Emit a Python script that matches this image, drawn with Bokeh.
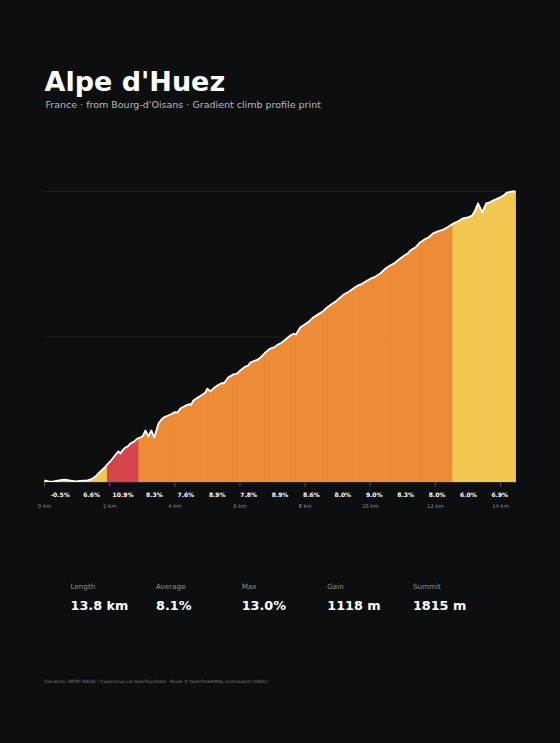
from bokeh.plotting import figure
from bokeh.layouts import column
from bokeh.models import Range1d
from bokeh.core.properties import value
from bokeh.embed import file_html
from bokeh.resources import INLINE

# ---------------- data ----------------
TITLE = "Alpe d'Huez"
SUBTITLE = "France \u00b7 from Bourg-d'Oisans \u00b7 Gradient climb profile print"

dist_km = [0.00, 0.12, 0.25, 0.45, 0.61, 0.80, 0.95, 1.10, 1.32, 1.45, 1.56, 1.72, 1.85, 1.93,
           2.05, 2.09, 2.20, 2.27, 2.33, 2.40, 2.48, 2.56, 2.64, 2.75, 2.85, 2.94, 3.02, 3.10,
           3.19, 3.28, 3.37, 3.50, 3.58, 3.65, 3.80, 3.90, 4.00, 4.08, 4.17, 4.30, 4.45, 4.50,
           4.57, 4.70, 4.80, 4.94, 5.00, 5.09, 5.20, 5.31, 5.45, 5.50, 5.64, 5.80, 5.90, 6.01,
           6.15, 6.25, 6.32, 6.45, 6.55, 6.63, 6.80, 6.93, 7.05, 7.15, 7.24, 7.40, 7.55, 7.65,
           7.72, 7.85, 8.00, 8.10, 8.25, 8.40, 8.55, 8.68, 8.80, 8.95, 9.08, 9.20, 9.30, 9.48,
           9.60, 9.75, 9.91, 10.05, 10.15, 10.31, 10.45, 10.61, 10.75, 10.92, 11.05, 11.15, 11.23,
           11.40, 11.53, 11.70, 11.80, 11.93, 12.10, 12.25, 12.36, 12.55, 12.70, 12.85, 13.00,
           13.13, 13.22, 13.31, 13.44, 13.56, 13.65, 13.77, 13.99, 14.10, 14.20, 14.36, 14.46]
elev_m = [698, 694, 693, 698, 701, 697, 694, 696, 698, 703, 713, 733, 748, 760,
          776, 783, 800, 810, 802, 815, 825, 830, 841, 848, 860, 864, 870, 891,
          868, 891, 864, 918, 932, 941, 949, 955, 962, 960, 976, 985, 993, 990,
          1007, 1018, 1025, 1038, 1053, 1042, 1055, 1065, 1075, 1072, 1096, 1108, 1110, 1123,
          1137, 1142, 1154, 1160, 1165, 1173, 1195, 1208, 1212, 1222, 1227, 1243, 1258, 1265,
          1262, 1289, 1302, 1310, 1328, 1340, 1352, 1367, 1378, 1391, 1405, 1418, 1424, 1440,
          1450, 1458, 1471, 1480, 1485, 1498, 1515, 1529, 1538, 1556, 1568, 1575, 1587,
          1600, 1618, 1632, 1638, 1653, 1662, 1668, 1676, 1691, 1700, 1711, 1715,
          1722, 1742, 1769, 1734, 1769, 1772, 1780, 1792, 1800, 1811, 1815, 1815]

segment_grades = [-0.5, 6.6, 10.9, 8.3, 7.6, 8.9, 7.8, 8.9, 8.6, 8.0, 9.0, 8.3, 8.0, 6.0, 6.9]
km_ticks = [0, 2, 4, 6, 8, 10, 12, 14]
grid_levels = [690, 1252.5, 1815]

stat_names = ["Length", "Average", "Max", "Gain", "Summit"]
stat_values = ["13.8 km", "8.1%", "13.0%", "1118 m", "1815 m"]

FOOTER = ("Elevation: SRTM (NASA) / Copernicus via OpenTopoData \u00b7 Route \u00a9 "
          "OpenStreetMap contributors (ODbL)")

# ---------------- style / layout ----------------
BG = "#0d0e10"
W = 560
FONT = value("DejaVu Sans")
YELLOW = "#f3c750"
ORANGE = "#ed8b37"
RED = "#d64549"


def grade_color(g):
    if g >= 10:
        return RED
    if g >= 7:
        return ORANGE
    return YELLOW


def canvas(h):
    f = figure(width=W, height=h, x_range=Range1d(0, W), y_range=Range1d(h, 0),
               output_backend="svg", toolbar_location=None, min_border=0,
               x_axis_location=None, y_axis_location=None,
               background_fill_color=BG, border_fill_color=BG, outline_line_color=None)
    f.grid.visible = False
    return f


# header
HEAD_H = 180
head = canvas(HEAD_H)
head.text(x=[44], y=[81], text=[TITLE], text_font=FONT, text_font_style="bold",
          text_font_size="27px", text_color="#ffffff", text_baseline="alphabetic")
head.text(x=[45], y=[104], text=[SUBTITLE], text_font=FONT, text_font_size="9.5px",
          text_color="#b9b9bb", text_baseline="alphabetic")

# chart
CH_H = 340
L = dist_km[-1]
base = grid_levels[0]
PXKM = 471.0 / L          # px per km
PXM = 291.0 / (grid_levels[-1] - base)   # px per metre
left_px, base_px = 44, 302  # frame-relative position of origin
x0 = -left_px / PXKM
x1 = (W - left_px) / PXKM
y1 = base + base_px / PXM
y0 = base - (CH_H - base_px) / PXM

chart = figure(width=W, height=CH_H, x_range=Range1d(x0, x1), y_range=Range1d(y0, y1),
               output_backend="svg", toolbar_location=None, min_border=0,
               x_axis_location=None, y_axis_location=None,
               background_fill_color=BG, border_fill_color=BG, outline_line_color=None)
chart.grid.visible = False

# grid lines
chart.segment(x0=[0] * len(grid_levels), x1=[L] * len(grid_levels), y0=grid_levels,
              y1=grid_levels, line_color="#1e1f22", line_width=1)


def interp(x):
    for i in range(1, len(dist_km)):
        if dist_km[i] >= x:
            a, b = dist_km[i - 1], dist_km[i]
            t = 0 if b == a else (x - a) / (b - a)
            return elev_m[i - 1] + t * (elev_m[i] - elev_m[i - 1])
    return elev_m[-1]


n = len(segment_grades)
xs, ys, cols = [], [], []
for k in range(n):
    a, b = k * L / n, (k + 1) * L / n
    px = [a] + [d for d in dist_km if a < d < b] + [b]
    py = [interp(v) for v in px]
    xs.append([a] + px + [b])
    ys.append([base] + py + [base])
    cols.append(grade_color(segment_grades[k]))
chart.patches(xs=xs, ys=ys, fill_color=cols, line_color=cols, line_width=0.8)

chart.line(dist_km, elev_m, line_color="#ffffff", line_width=1.8, line_join="round")

# baseline and ticks
chart.segment(x0=[0], x1=[L], y0=[base], y1=[base], line_color="#26272a", line_width=1)
chart.segment(x0=km_ticks, x1=km_ticks, y0=[base] * len(km_ticks),
              y1=[base - 4 / PXM] * len(km_ticks), line_color="#5a5b5e", line_width=1)

centers = [(k + 0.5) * L / n for k in range(n)]
chart.text(x=centers, y=[base - 12 / PXM] * n, text=[f"{g:.1f}%" for g in segment_grades],
           text_font=FONT, text_font_style="bold", text_font_size="6px", text_color="#ffffff",
           text_align="center", text_baseline="middle")
chart.text(x=km_ticks, y=[base - 23 / PXM] * len(km_ticks), text=[f"{t} km" for t in km_ticks],
           text_font=FONT, text_font_size="5.3px", text_color="#8c8c8f",
           text_align="center", text_baseline="middle")

# footer
FOOT_H = 743 - HEAD_H - CH_H
foot = canvas(FOOT_H)
sx = [70 + 85.6 * i for i in range(len(stat_names))]
foot.text(x=sx, y=[66] * len(sx), text=stat_names, text_font=FONT, text_font_size="7.2px",
          text_color="#8f8f92", text_baseline="alphabetic")
foot.text(x=sx, y=[85] * len(sx), text=stat_values, text_font=FONT, text_font_style="bold",
          text_font_size="12.8px", text_color="#ffffff", text_baseline="alphabetic")
foot.text(x=[44], y=[161], text=[FOOTER], text_font=FONT, text_font_size="4.35px",
          text_color="#7a7a7d", text_baseline="alphabetic")

layout = column(head, chart, foot, spacing=0)
html = file_html(layout, INLINE)
html = html.replace("<head>", "<head><style>html,body{background:#0d0e10;}</style>", 1)
open("out.html", "w").write(html)
